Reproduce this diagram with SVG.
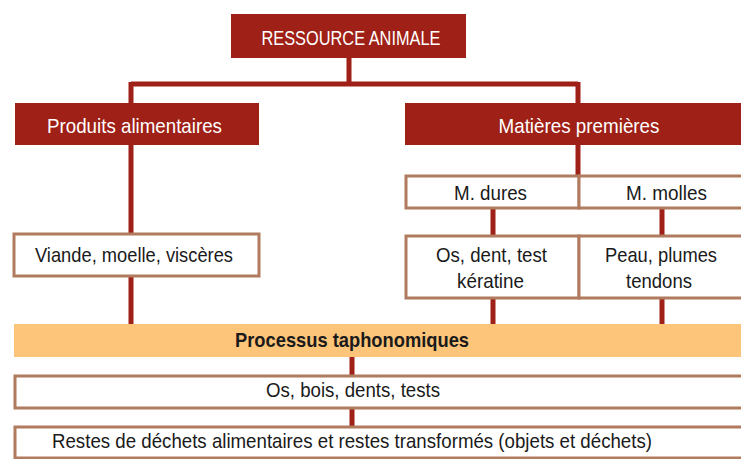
<svg xmlns="http://www.w3.org/2000/svg" width="741" height="459" viewBox="0 0 741 459">
<style>
.red{fill:#9e2016}
.box{fill:#ffffff;stroke:#b07b5e;stroke-width:3}
.bar{fill:#fdc57a}
.c{stroke:#9e2016;stroke-width:5;fill:none}
text{font-family:"Liberation Sans Narrow","Liberation Sans",Arial,sans-serif;font-size:21px;text-anchor:middle}
.w{fill:#ffffff}
.k{fill:#1a1a1a}
.b{font-weight:bold}
</style>
<rect width="741" height="459" fill="#ffffff"/>
<g id="connectors">
<path class="c" d="M349,58V84M131,84H578M131,82V103M578,82V103"/>
<path class="c" d="M131,145V233M131,276V324"/>
<path class="c" d="M578,145V175"/>
<path class="c" d="M493,208V235M662,208V235M493,298V324M662,298V324"/>
<path class="c" d="M352,357V375M352,408V426"/>
</g>
<g id="ressource">
<rect class="red" x="231" y="14" width="235" height="44"/>
<text class="w" x="351" y="45" textLength="179" lengthAdjust="spacingAndGlyphs">RESSOURCE ANIMALE</text>
</g>
<g id="produits">
<rect class="red" x="15" y="103" width="244" height="42"/>
<text class="w" x="134.5" y="133" textLength="175" lengthAdjust="spacingAndGlyphs">Produits alimentaires</text>
</g>
<g id="matieres">
<rect class="red" x="405" y="103" width="340" height="42"/>
<text class="w" x="579" y="133" textLength="161" lengthAdjust="spacingAndGlyphs">Matières premières</text>
</g>
<g id="mdures">
<rect class="box" x="406" y="176" width="173" height="32"/>
<text class="k" x="490.5" y="200" textLength="73" lengthAdjust="spacingAndGlyphs">M. dures</text>
</g>
<g id="mmolles">
<rect class="box" x="579" y="176" width="166" height="32"/>
<text class="k" x="666.5" y="200" textLength="81" lengthAdjust="spacingAndGlyphs">M. molles</text>
</g>
<g id="viande">
<rect class="box" x="14" y="234" width="245" height="42"/>
<text class="k" x="134" y="262" textLength="198" lengthAdjust="spacingAndGlyphs">Viande, moelle, viscères</text>
</g>
<g id="os-dent">
<rect class="box" x="406" y="236" width="173" height="62"/>
<text class="k" x="491.5" y="262" textLength="111" lengthAdjust="spacingAndGlyphs">Os, dent, test</text>
<text class="k" x="490.5" y="288" textLength="67" lengthAdjust="spacingAndGlyphs">kératine</text>
</g>
<g id="peau">
<rect class="box" x="579" y="236" width="166" height="62"/>
<text class="k" x="661" y="262" textLength="112" lengthAdjust="spacingAndGlyphs">Peau, plumes</text>
<text class="k" x="659" y="288" textLength="66" lengthAdjust="spacingAndGlyphs">tendons</text>
</g>
<g id="processus">
<rect class="bar" x="14" y="324" width="731" height="33"/>
<text class="k b" x="352" y="347" textLength="234" lengthAdjust="spacingAndGlyphs">Processus taphonomiques</text>
</g>
<g id="os-bois">
<rect class="box" x="15" y="376" width="730" height="32"/>
<text class="k" x="353" y="397" textLength="174" lengthAdjust="spacingAndGlyphs">Os, bois, dents, tests</text>
</g>
<g id="restes">
<rect class="box" x="15" y="427" width="730" height="31"/>
<text class="k" x="352" y="448" textLength="600" lengthAdjust="spacingAndGlyphs">Restes de déchets alimentaires et restes transformés (objets et déchets)</text>
</g>
</svg>
